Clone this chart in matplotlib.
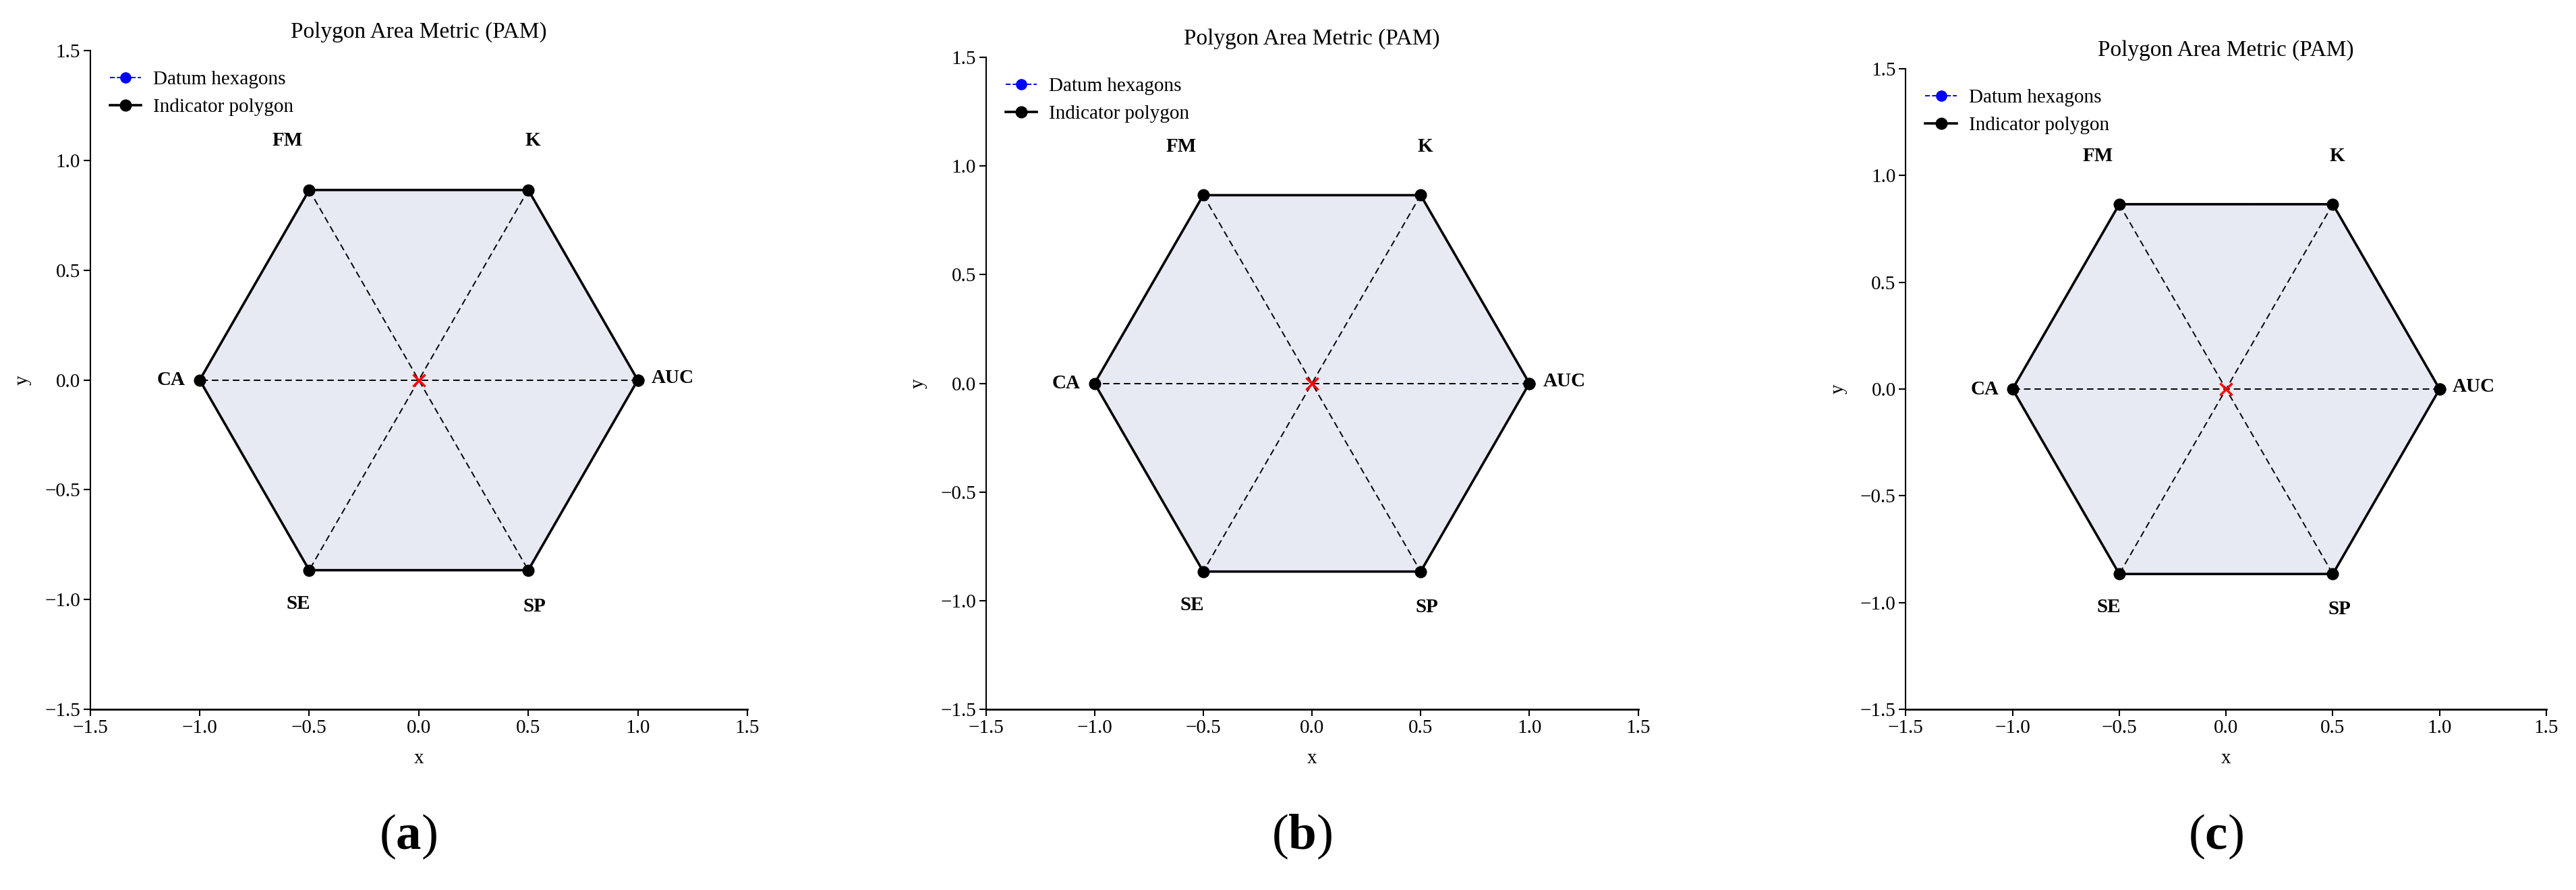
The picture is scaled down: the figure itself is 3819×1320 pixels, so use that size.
import numpy as np
import matplotlib
matplotlib.use('Agg')
import matplotlib.pyplot as plt

plt.rcParams['font.family'] = ['Liberation Serif', 'DejaVu Serif']
plt.rcParams['mathtext.fontset'] = 'custom'
plt.rcParams['mathtext.rm'] = 'Liberation Serif'
plt.rcParams['mathtext.bf'] = 'Liberation Serif:bold'

# indicators, counter-clockwise starting at angle 0
indicators = ['AUC', 'K', 'FM', 'CA', 'SE', 'SP']
angles_deg = [0, 60, 120, 180, 240, 300]
# indicator values for each panel (all perfect)
values_a = [1.0, 1.0, 1.0, 1.0, 1.0, 1.0]
values_b = [1.0, 1.0, 1.0, 1.0, 1.0, 1.0]
values_c = [1.0, 1.0, 1.0, 1.0, 1.0, 1.0]
panel_values = [values_a, values_b, values_c]
panel_names = ['a', 'b', 'c']
# where the indicator names sit
label_x = [1.16, 0.52, -0.60, -1.13, -0.55, 0.53]
label_y = [0.01, 1.09, 1.09, 0.0, -1.02, -1.03]
ticks = [-1.5, -1.0, -0.5, 0.0, 0.5, 1.0, 1.5]

# axes positions in figure fraction [left, bottom, width, height]
positions = [[0.0350, 0.2030, 0.2551, 0.7399],
             [0.3827, 0.2030, 0.2532, 0.7325],
             [0.7398, 0.2030, 0.2487, 0.7196]]

fig = plt.figure(figsize=(38.19, 13.2), dpi=100)
fs = 21
theta = np.deg2rad(angles_deg)

for pos, vals, name in zip(positions, panel_values, panel_names):
    ax = fig.add_axes(pos)
    vals = np.array(vals)
    dx, dy = np.cos(theta), np.sin(theta)
    px, py = vals * dx, vals * dy

    ax.fill(px, py, color='#e7e9f3', zorder=1)
    # diagonals through the centre
    for i in range(3):
        ax.plot([dx[i], dx[i + 3]], [dy[i], dy[i + 3]], '--', color='black',
                lw=1.4, dashes=(5, 3), zorder=2)
    ax.plot(np.append(dx, dx[0]), np.append(dy, dy[0]), '--o', color='blue',
            lw=1.4, ms=11, label='Datum hexagons', zorder=2)
    ax.plot(np.append(px, px[0]), np.append(py, py[0]), '-o', color='black',
            lw=2.6, ms=12, label='Indicator polygon', zorder=3)
    ax.plot(0, 0, 'x', color='red', ms=13, mew=2.5, zorder=4)

    for lab, lx, ly in zip(indicators, label_x, label_y):
        ax.text(lx, ly, lab, ha='center', va='center', fontsize=fs,
                fontweight='bold')

    ax.set_xlim(-1.5, 1.5)
    ax.set_ylim(-1.5, 1.5)
    ax.set_xticks(ticks)
    ax.set_yticks(ticks)
    ax.tick_params(labelsize=fs, width=1.5, length=7)
    ax.spines['top'].set_visible(False)
    ax.spines['right'].set_visible(False)
    ax.spines['left'].set_linewidth(1.5)
    ax.spines['bottom'].set_linewidth(2.0)
    ax.set_xlabel('x', fontsize=fs, labelpad=14)
    ax.set_ylabel('y', fontsize=fs, labelpad=14)
    ax.set_title('Polygon Area Metric (PAM)', fontsize=24, pad=14)
    ax.legend(loc='upper left', frameon=False, fontsize=fs,
              handlelength=1.6, handletextpad=0.6, borderaxespad=0.6,
              labelspacing=0.5)

    fig.text(pos[0] + pos[2] / 2 - 0.004, 0.06, r'($\mathbf{%s}$)' % name,
             ha='center', va='center', fontsize=54)

fig.savefig('out.png', dpi=100)
